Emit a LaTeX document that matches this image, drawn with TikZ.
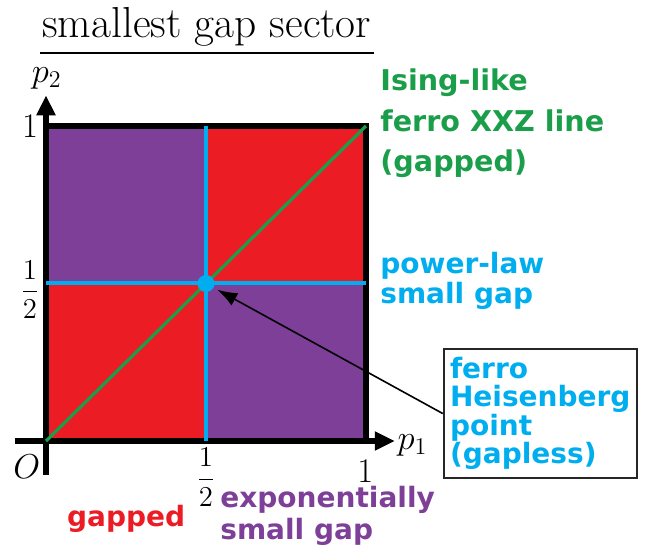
\documentclass[tikz,border=0pt]{standalone}
\usepackage{fontspec}
\usepackage{amsmath}
\usetikzlibrary{arrows.meta}
\newfontfamily\lblfont{DejaVu Sans}
\definecolor{gapred}{HTML}{EC1C24}
\definecolor{exppurple}{HTML}{7D3F98}
\definecolor{isinggreen}{HTML}{1A9E4A}
\definecolor{powcyan}{HTML}{00AEEF}

\begin{document}
\begin{tikzpicture}[x=40pt, y=39.375pt,
    lbl/.style={font=\lblfont\bfseries\fontsize{14}{15}\selectfont, inner sep=0pt, align=left, anchor=base west},
    mathlbl/.style={font=\fontsize{17}{19}\selectfont, inner sep=0pt},
    fraclbl/.style={font=\fontsize{14.4}{16}\selectfont, inner sep=0pt},
    axis/.style={line width=3pt, -{Triangle[length=10pt,width=9pt]}}]
    \useasboundingbox (-0.575,-1.371) rectangle (7.6125,5.6);

    % Title
    \node[font=\fontsize{21.7}{26}\selectfont, anchor=base, inner xsep=1pt] (title) at (2.01,5.13) {smallest gap sector};
    \draw[line width=0.6pt] ([yshift=-8pt]title.base west) -- ([yshift=-8pt]title.base east);

    % Regions
    \fill[exppurple] (0,2) rectangle (2,4);
    \fill[gapred] (2,2) rectangle (4,4);
    \fill[gapred] (0,0) rectangle (2,2);
    \fill[exppurple] (2,0) rectangle (4,2);

    % Axes
    \draw[axis] (-0.39,0) -- (4.36,0);
    \draw[axis] (0,-0.43) -- (0,4.39);
    \draw[line width=3pt] (0,4) -- (4,4) -- (4,0);

    % Lines
    \draw[isinggreen, line width=1.6pt] (0,0) -- (4,4);
    \draw[powcyan, line width=2pt] (2,0) -- (2,4) (0,2) -- (4,2);
    \node[circle, fill=powcyan, minimum size=8.5pt, inner sep=0pt] (hpt) at (2,2) {};

    % Axis labels
    \node[mathlbl] (ptwo) at (0.01,4.61) {$p_2$};
    \node[mathlbl] (oneleft) at (-0.2,4.0) {$1$};
    \node[fraclbl] (halfleft) at (-0.2,1.92) {$\displaystyle\frac{1}{2}$};
    \node[mathlbl] (orig) at (-0.24,-0.33) {$O$};
    \node[fraclbl] (halfbot) at (2,-0.46) {$\displaystyle\frac{1}{2}$};
    \node[mathlbl] (onebot) at (3.99,-0.38) {$1$};
    \node[mathlbl] (pone) at (4.58,-0.05) {$p_1$};

    % Sector labels
    \node[lbl, isinggreen, font=\lblfont\bfseries\fontsize{14.3}{20.25}\selectfont] (ising) at (4.175,3.416) {Ising-like\\ferro XXZ line\\(gapped)};
    \node[lbl, powcyan] (powlaw) at (4.175,1.75) {power-law\\small gap};
    \node[lbl, gapred] (gapd) at (0.26,-1.09) {gapped};
    \node[lbl, exppurple, font=\lblfont\bfseries\fontsize{14}{16}\selectfont] (expgap) at (2.175,-1.257) {exponentially\\small gap};
    \node[draw=black!85, line width=1pt, anchor=north west, align=left, text=powcyan,
          font=\lblfont\bfseries\fontsize{14}{14.25}\selectfont,
          minimum width=96.5pt, minimum height=64.5pt, inner xsep=3pt, inner ysep=0pt] (hbox) at (4.96,1.18)
          {ferro\\Heisenberg\\point\\(gapless)};
    \draw[line width=0.8pt, -{Latex[length=10pt,width=7pt]}, shorten >=2pt] (hbox.west) -- (hpt);
\end{tikzpicture}
\end{document}
